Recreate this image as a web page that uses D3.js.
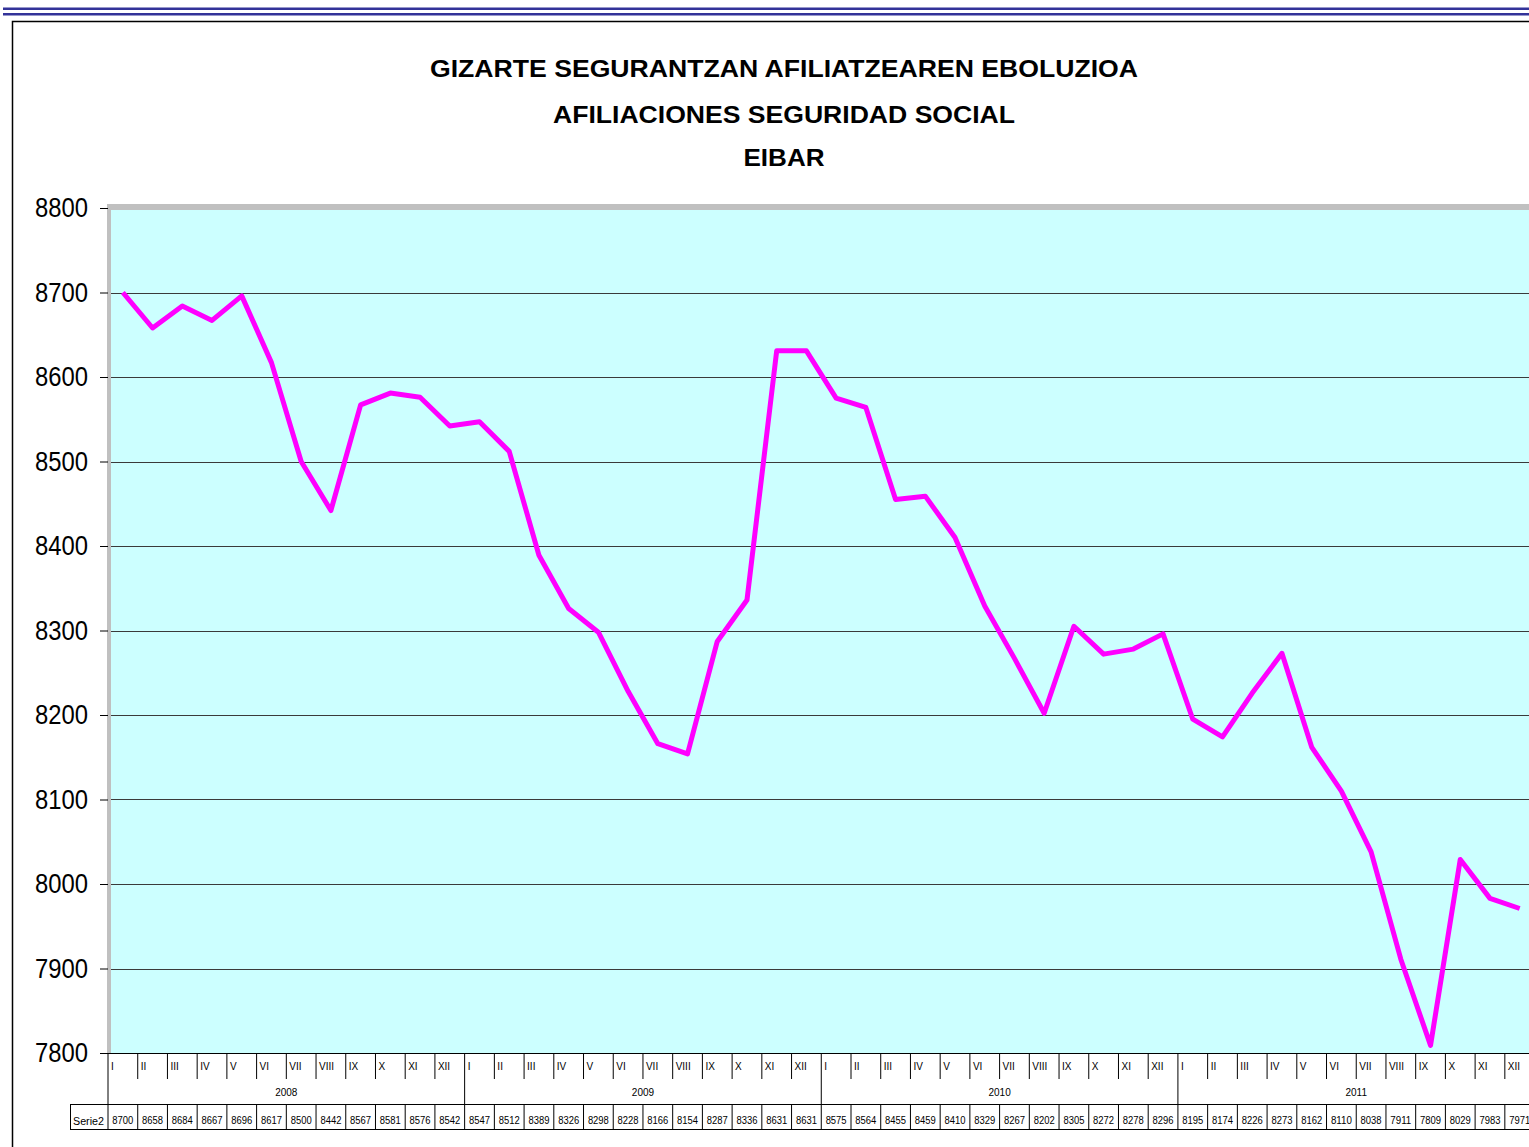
<!DOCTYPE html>
<html>
<head>
<meta charset="utf-8">
<script src="https://cdn.jsdelivr.net/npm/d3@7"></script>
<style>
  body { margin: 0; background: #fff; }
  svg { display: block; font-family: "Liberation Sans", Arial, sans-serif; }
</style>
</head>
<body>
<div id="chart"></div>
<script>
// data
var years = ["2008", "2009", "2010", "2011"];
var months = ["I", "II", "III", "IV", "V", "VI", "VII", "VIII", "IX", "X", "XI", "XII"];
var values = [
  8700, 8658, 8684, 8667, 8696, 8617, 8500, 8442, 8567, 8581, 8576, 8542,
  8547, 8512, 8389, 8326, 8298, 8228, 8166, 8154, 8287, 8336, 8631, 8631,
  8575, 8564, 8455, 8459, 8410, 8329, 8267, 8202, 8305, 8272, 8278, 8296,
  8195, 8174, 8226, 8273, 8162, 8110, 8038, 7911, 7809, 8029, 7983, 7971
];
var yTicks = [7800, 7900, 8000, 8100, 8200, 8300, 8400, 8500, 8600, 8700, 8800];
var titleLines = [
  "GIZARTE SEGURANTZAN AFILIATZEAREN EBOLUZIOA",
  "AFILIACIONES SEGURIDAD SOCIAL",
  "EIBAR"
];
var seriesName = "Serie2";

var W = 1529, H = 1147;
var plotLeft = 108, plotTop = 208, plotBottom = 1053;
var monthW = 29.72;

// one category per month
var cats = [];
years.forEach(function(yr) {
  months.forEach(function(m) { cats.push(yr + "-" + m); });
});
var data = cats.map(function(c, i) { return {key: c, month: c.split("-")[1], year: c.split("-")[0], value: values[i]}; });

var x = d3.scaleBand().domain(cats).range([plotLeft, plotLeft + cats.length * monthW]).padding(0);
var y = d3.scaleLinear().domain([7800, 8800]).range([plotBottom, plotTop]);

var svg = d3.select("#chart").append("svg").attr("width", W).attr("height", H);

// double blue rule at the top
svg.append("rect").attr("x", 3).attr("y", 7.5).attr("width", W).attr("height", 2.5).attr("fill", "#333399");
svg.append("rect").attr("x", 3).attr("y", 13).attr("width", W).attr("height", 2.5).attr("fill", "#333399");

// chart frame
svg.append("path")
  .attr("d", "M12.5," + H + "V21.5H" + W)
  .attr("fill", "none").attr("stroke", "#000").attr("stroke-width", 1.5);

// title
svg.append("g").selectAll("text")
  .data(titleLines)
  .enter().append("text")
  .attr("x", 784)
  .attr("y", function(d, i) { return [77, 123, 166][i]; })
  .attr("text-anchor", "middle")
  .style("font-size", "24px")
  .style("font-weight", "bold")
  .attr("textLength", function(d, i) { return [708, 462, 81][i]; })
  .attr("lengthAdjust", "spacingAndGlyphs")
  .text(function(d) { return d; });

// plot walls: grey edge then cyan fill
svg.append("rect").attr("x", plotLeft - 1).attr("y", plotTop - 4)
  .attr("width", W - plotLeft + 1).attr("height", plotBottom - plotTop + 4).attr("fill", "#c0c0c0");
svg.append("rect").attr("x", plotLeft + 3).attr("y", plotTop + 2)
  .attr("width", W - plotLeft).attr("height", plotBottom - plotTop - 2).attr("fill", "#ccffff");

// gridlines
svg.append("g").selectAll("line")
  .data(yTicks.filter(function(t) { return t > 7800 && t < 8800; }))
  .enter().append("line")
  .attr("x1", plotLeft + 3).attr("x2", W)
  .attr("y1", function(d) { return Math.round(y(d)) + 0.5; })
  .attr("y2", function(d) { return Math.round(y(d)) + 0.5; })
  .attr("stroke", "#3a3a3a").attr("stroke-width", 1);

// y axis
var yAxis = svg.append("g")
  .attr("transform", "translate(" + plotLeft + ",0)")
  .call(d3.axisLeft(y).tickValues(yTicks).tickSize(8).tickPadding(12).tickFormat(d3.format("d")));
yAxis.select(".domain").remove();
yAxis.selectAll(".tick line").attr("stroke", "#000");
yAxis.selectAll(".tick text")
  .style("font-size", "27px")
  .attr("fill", "#000")
  .attr("font-family", "Liberation Sans, Arial, sans-serif")
  .attr("textLength", 53)
  .attr("lengthAdjust", "spacingAndGlyphs");

// x axis line
svg.append("line")
  .attr("x1", 100).attr("x2", W)
  .attr("y1", plotBottom + 0.5).attr("y2", plotBottom + 0.5)
  .attr("stroke", "#000").attr("stroke-width", 1.2);

// category table under the plot
var tbl = svg.append("g");
var rowMonthBottom = 1079, rowYearBottom = 1104, rowDataBottom = 1129;

tbl.selectAll(".msep")
  .data(data)
  .enter().append("line")
  .attr("x1", function(d) { return x(d.key); })
  .attr("x2", function(d) { return x(d.key); })
  .attr("y1", plotBottom)
  .attr("y2", function(d) { return d.month === "I" ? rowYearBottom : rowMonthBottom; })
  .attr("stroke", "#000").attr("stroke-width", 1);

tbl.selectAll(".mlabel")
  .data(data)
  .enter().append("text")
  .attr("x", function(d) { return x(d.key) + 3; })
  .attr("y", 1070)
  .style("font-size", "10px")
  .text(function(d) { return d.month; });

tbl.selectAll(".ylabel")
  .data(years)
  .enter().append("text")
  .attr("x", function(yr) { return x(yr + "-I") + 6 * monthW; })
  .attr("y", 1096)
  .attr("text-anchor", "middle")
  .style("font-size", "10px")
  .text(function(yr) { return yr; });

// data row
tbl.append("line").attr("x1", 70).attr("x2", W).attr("y1", rowYearBottom + 0.5).attr("y2", rowYearBottom + 0.5).attr("stroke", "#000");
tbl.append("line").attr("x1", 70).attr("x2", W).attr("y1", rowDataBottom + 0.5).attr("y2", rowDataBottom + 0.5).attr("stroke", "#000");
tbl.append("line").attr("x1", 70.5).attr("x2", 70.5).attr("y1", rowYearBottom).attr("y2", rowDataBottom).attr("stroke", "#000");
tbl.selectAll(".dsep")
  .data(data)
  .enter().append("line")
  .attr("x1", function(d) { return x(d.key) + monthW; })
  .attr("x2", function(d) { return x(d.key) + monthW; })
  .attr("y1", rowYearBottom).attr("y2", rowDataBottom)
  .attr("stroke", "#000").attr("stroke-width", 1);
tbl.append("line").attr("x1", plotLeft).attr("x2", plotLeft).attr("y1", rowYearBottom).attr("y2", rowDataBottom).attr("stroke", "#000");

tbl.append("text")
  .attr("x", 73).attr("y", 1125)
  .style("font-size", "10px")
  .attr("textLength", 31).attr("lengthAdjust", "spacingAndGlyphs")
  .text(seriesName);

tbl.selectAll(".val")
  .data(data)
  .enter().append("text")
  .attr("x", function(d) { return x(d.key) + monthW / 2; })
  .attr("y", 1124)
  .attr("text-anchor", "middle")
  .style("font-size", "10px")
  .attr("textLength", 21).attr("lengthAdjust", "spacingAndGlyphs")
  .text(function(d) { return d.value; });

// the series line
var line = d3.line()
  .x(function(d) { return x(d.key) + x.bandwidth() / 2; })
  .y(function(d) { return y(d.value); });

svg.append("path")
  .datum(data)
  .attr("d", line)
  .attr("fill", "none")
  .attr("stroke", "#ff00ff")
  .attr("stroke-width", 5)
  .attr("stroke-linejoin", "round");
</script>
</body>
</html>
